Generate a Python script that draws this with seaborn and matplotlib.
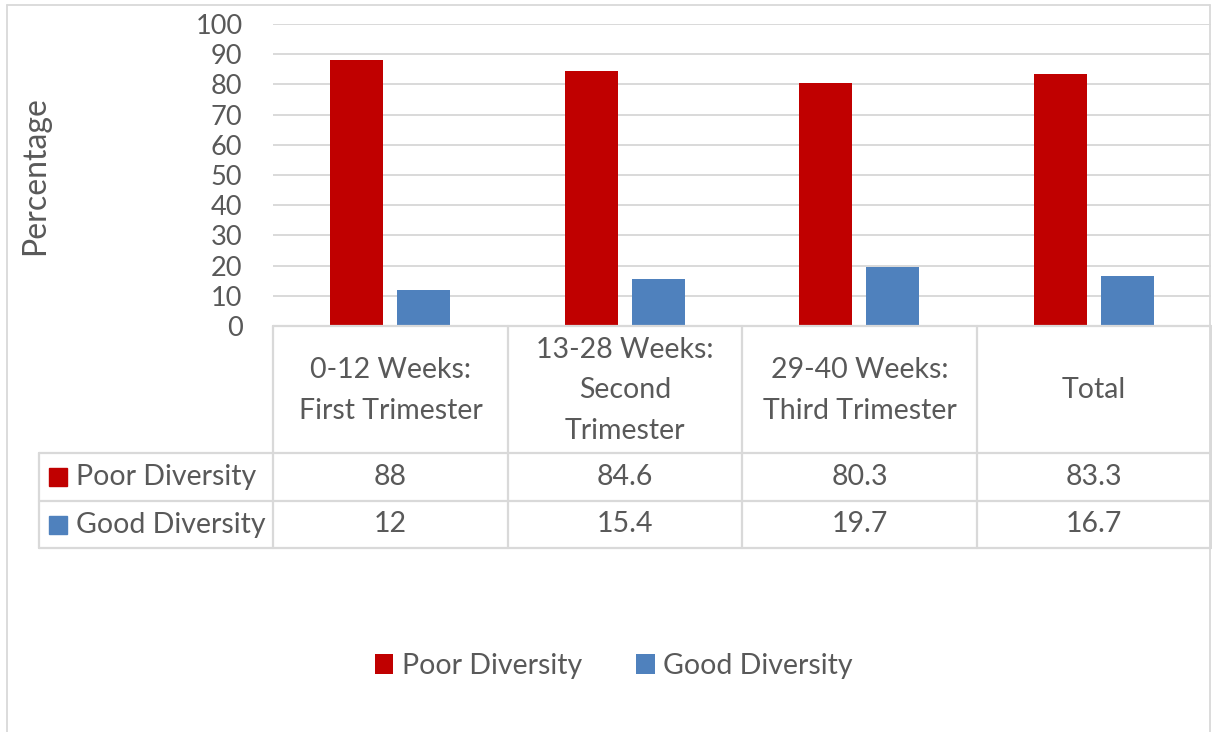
import matplotlib
matplotlib.use("Agg")
import matplotlib.pyplot as plt
from matplotlib.lines import Line2D
from matplotlib.patches import Patch, Rectangle
import seaborn as sns
import pandas as pd

categories = ["0-12 Weeks:\nFirst Trimester", "13-28 Weeks:\nSecond\nTrimester",
              "29-40 Weeks:\nThird Trimester", "Total"]
series_names = ["Poor Diversity", "Good Diversity"]
poor = [88, 84.6, 80.3, 83.3]
good = [12, 15.4, 19.7, 16.7]
yticks = [0, 10, 20, 30, 40, 50, 60, 70, 80, 90, 100]
colors = {"Poor Diversity": "#C00000", "Good Diversity": "#4F81BD"}

W, H = 1212, 732
TXT = "#595959"
LINE = "#D9D9D9"
FS = 20.5

sns.set_theme(style="white")
plt.rcParams["font.family"] = ["Lato", "DejaVu Sans"]

df = pd.DataFrame({
    "cat": categories * 2,
    "series": [series_names[0]] * 4 + [series_names[1]] * 4,
    "val": poor + good,
})

fig = plt.figure(figsize=(W / 100, H / 100), dpi=100)

def fx(x):
    return x / W

def fy(y):
    return 1 - y / H

ax_left, ax_right, ax_top, ax_bot = 273, 1211, 24, 326
ax = fig.add_axes([fx(ax_left), fy(ax_bot), fx(ax_right - ax_left), (ax_bot - ax_top) / H])
sns.barplot(data=df, x="cat", y="val", hue="series", hue_order=series_names,
            order=categories, palette=colors, width=0.571, gap=0.21,
            legend=False, ax=ax, saturation=1, edgecolor="none")
ax.set_xlim(-0.5, 3.5)
ax.set_ylim(0, 100)
ax.set_yticks(yticks)
ax.set_xticks([])
ax.set_xlabel("")
ax.set_ylabel("")
for s in ax.spines.values():
    s.set_visible(False)
ax.yaxis.grid(True, color=LINE, lw=1.4)
ax.set_axisbelow(True)
ax.tick_params(axis="y", length=0, pad=22, labelsize=19.5, labelcolor=TXT)

fig.text(fx(35), fy(176), "Percentage", rotation=90, ha="center", va="center",
         fontsize=23, color=TXT)

# outer chart border
for (x0, y0, x1, y1) in [(7, 5, 7, 732), (7, 5, 1210, 5), (1210, 5, 1210, 732)]:
    fig.add_artist(Line2D([fx(x0), fx(x1)], [fy(y0), fy(y1)], color=LINE, lw=1.3))

# data table grid
col_edges = [273, 508, 742, 977, 1211]
row_edges = [326, 453, 501, 548]
lw_t = 1.6
fig.add_artist(Line2D([fx(273), fx(1211)], [fy(326), fy(326)], color=LINE, lw=lw_t))
for y in row_edges[1:]:
    fig.add_artist(Line2D([fx(39), fx(1211)], [fy(y), fy(y)], color=LINE, lw=lw_t))
fig.add_artist(Line2D([fx(39), fx(39)], [fy(453), fy(548)], color=LINE, lw=lw_t))
for x in col_edges:
    fig.add_artist(Line2D([fx(x), fx(x)], [fy(326), fy(548)], color=LINE, lw=lw_t))

# header cells
for i, c in enumerate(categories):
    cx = (col_edges[i] + col_edges[i + 1]) / 2
    fig.text(fx(cx), fy(390.5), c, ha="center", va="center", fontsize=FS, color=TXT,
             linespacing=1.68)

# rows
rows = [(series_names[0], poor), (series_names[1], good)]
for r, (name, vals) in enumerate(rows):
    cy = (row_edges[r + 1] + row_edges[r + 2]) / 2
    fig.add_artist(Rectangle((fx(49), fy(cy + 9)), fx(18), 18 / H,
                             color=colors[name], transform=fig.transFigure))
    fig.text(fx(76), fy(cy), name, ha="left", va="center", fontsize=FS, color=TXT)
    for i, v in enumerate(vals):
        cx = (col_edges[i] + col_edges[i + 1]) / 2
        fig.text(fx(cx), fy(cy), f"{v:g}", ha="center", va="center", fontsize=FS, color=TXT)

# legend
handles = [Patch(facecolor=colors[n], edgecolor="none", label=n) for n in series_names]
fig.legend(handles=handles, loc="center", bbox_to_anchor=(fx(614), fy(666)), ncol=2,
           frameon=False, fontsize=FS, labelcolor=TXT, handlelength=0.65,
           handleheight=0.65, handletextpad=0.3, columnspacing=1.9)

fig.savefig("out.png", dpi=100)
